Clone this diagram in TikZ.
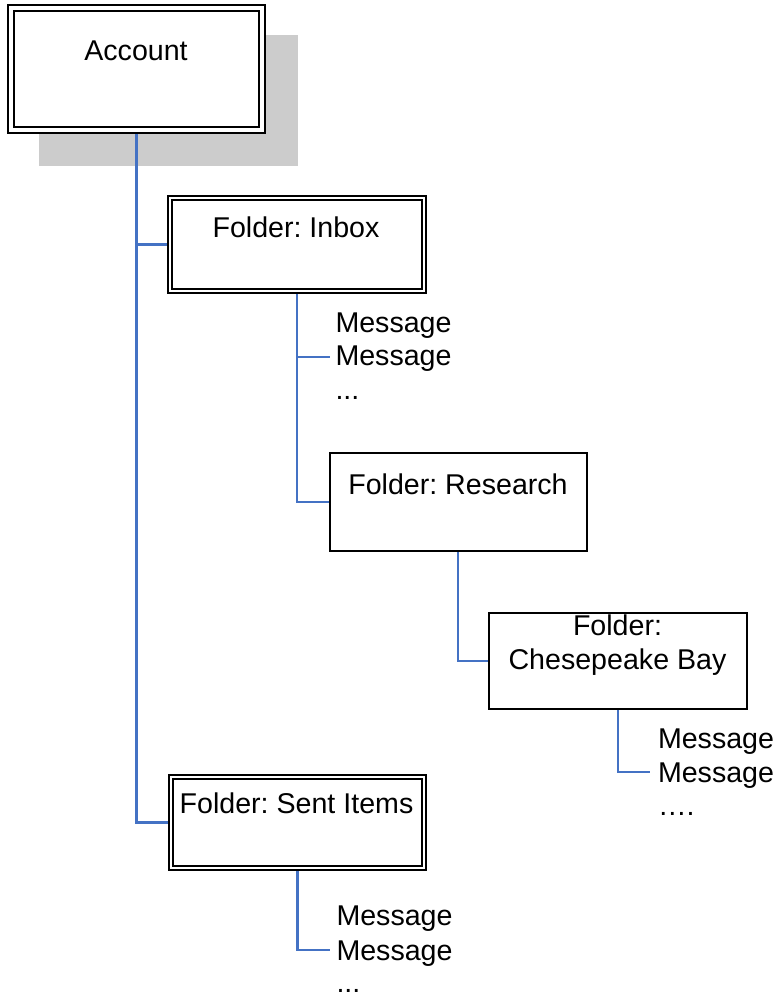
\documentclass[tikz,border=0pt]{standalone}
\usepackage{fontspec}
\setmainfont{Liberation Sans}
\usetikzlibrary{backgrounds}
\definecolor{linkblue}{RGB}{68,114,196}
\definecolor{shadowgray}{RGB}{204,204,204}
\frenchspacing
\begin{document}
\frenchspacing
\begin{tikzpicture}[x=1pt,y=-1pt,
  txt/.style={font=\fontsize{28.6}{34}\selectfont, inner sep=0pt, outer sep=0pt},
  dbox/.style={draw, fill=white, line width=2pt, double=white, double distance=2.6pt, inner sep=0pt},
  sbox/.style={draw, fill=white, line width=2pt, inner sep=0pt},
  link/.style={draw=linkblue, line width=2.6pt}]
\useasboundingbox (0,0) rectangle (778,999);

% shadow behind account
\begin{pgfonlayer}{background}
\fill[shadowgray] (39,35) rectangle (298,166);
\end{pgfonlayer}

% boxes
\node[dbox, double distance=4pt, minimum width=251.3pt, minimum height=121.2pt] (acc) at (136.4,68.9) {};
\node[dbox, minimum width=254pt, minimum height=93pt] (inbox) at (297,244.5) {};
\node[sbox, minimum width=257pt, minimum height=98pt] (res) at (458,502) {};
\node[sbox, minimum width=258pt, minimum height=96pt] (ches) at (618,661) {};
\node[dbox, minimum width=252.8pt, minimum height=91.2pt] (sent) at (297.4,822.4) {};

% box texts
\node[txt, anchor=base] (tacc) at (136,60) {Account};
\node[txt, anchor=base] (tinbox) at (296,237) {Folder: Inbox};
\node[txt, anchor=base] (tres) at (458,494) {Folder: Research};
\node[txt, anchor=base] (tches1) at (617.5,635) {Folder:};
\node[txt, anchor=base] (tches2) at (617.5,669) {Chesepeake Bay};
\node[txt, anchor=base] (tsent) at (296.5,813) {Folder: Sent Items};

% message lists
\node[txt, anchor=base west] (ia) at (335.5,332) {Message};
\node[txt, anchor=base west] (ib) at (335.5,365) {Message};
\node[txt, anchor=base west] (ic) at (335.5,399) {...};
\node[txt, anchor=base west] (ca) at (658,748) {Message};
\node[txt, anchor=base west] (cb) at (658,782) {Message};
\node[txt, anchor=base west] (cc) at (658,815) {….};
\node[txt, anchor=base west] (sa) at (336.5,925) {Message};
\node[txt, anchor=base west] (sb) at (336.5,960) {Message};
\node[txt, anchor=base west] (sc) at (336.5,992) {...};

\coordinate (m1) at (330,357);
\coordinate (m2) at (650,772);
\coordinate (m3) at (330,950);

% connectors
\begin{pgfonlayer}{background}
\draw[link] (acc.south) |- (sent.west);
\draw[link] (acc.south |- inbox.west) -- (inbox.west);
\draw[link] (inbox.south) |- (res.west);
\draw[link] (inbox.south |- m1) -- (m1);
\draw[link] (res.south) |- (ches.west);
\draw[link] (ches.south) |- (m2);
\draw[link] (sent.south) |- (m3);
\end{pgfonlayer}
\end{tikzpicture}
\end{document}
